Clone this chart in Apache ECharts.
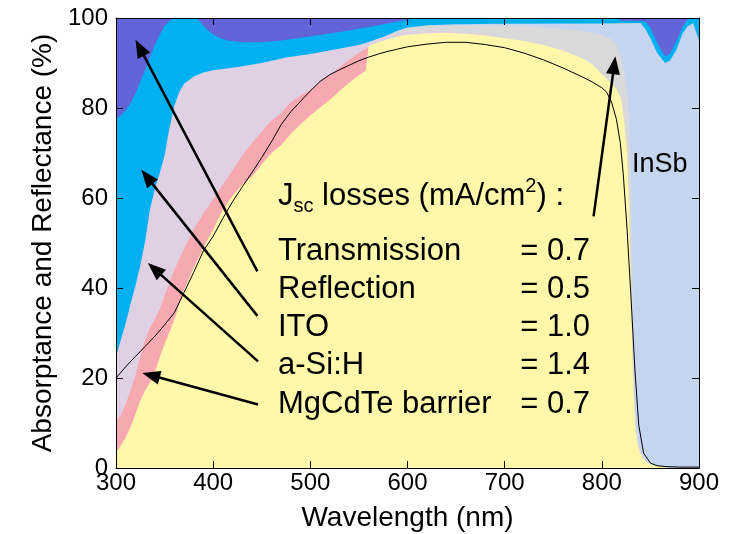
<!DOCTYPE html>
<html><head><meta charset="utf-8">
<script src="https://cdn.jsdelivr.net/npm/echarts@6/dist/echarts.min.js"></script>
<style>html,body{margin:0;padding:0;background:#fff}#c{width:741px;height:534px}</style>
</head><body><div id="c"></div>
<script>
// ---- data (cumulative boundaries, %) ----
const xTicks = [300, 400, 500, 600, 700, 800, 900];
const yTicks = [0, 20, 40, 60, 80, 100];

const wlReflection = [300, 900];
const reflection = [100, 100];

const wlITO = [300,305,310,315,320,325,330,335,340,345,350,355,360,383,390,397,405,415,430,450,470,490,510,530,550,570,590,605,612,815,820,840,845,850,857,865,870,877,883,888,892,900];
const ito = [77.8,78.3,79.5,81,83.2,85.8,88.5,91.3,94,96.3,98.2,99.3,100,100,98.3,96.8,95.7,95,94.6,94.6,95,95.6,96.2,96.9,97.6,98.4,99.2,99.8,100,100,99.4,99.3,99.2,97.8,94.5,91.5,92,95,98,99.6,100,100];

const wlInSb = [555,560,575,590,600,620,650,700,800,840,845,850,857,865,870,877,883,888,894,900];
const insb = [94.3,94.6,95.8,97.2,97.9,98.4,98.6,98.7,98.8,98.9,97.5,95.5,92.2,90,90.5,93,96.5,98.1,98.9,95];

const wlTrans = [556,560,575,590,600,620,650,680,700,720,740,760,780,790,800,810,815,820,823,826,828,830,831,832,834,836,840,845,850,860,870];
const trans = [94.2,94.5,95.7,97.0,97.7,98.2,98.4,98.4,98.3,98.1,97.9,97.6,97.1,96.7,96.2,95.2,94.2,91,88,83.5,78,64,50,35,16,8,3.5,1.5,0.8,0.3,0];

const wlASi = [300,305,310,315,320,325,330,335,340,345,350,355,360,365,370,380,390,400,425,450,475,500,525,550,558,560,570,580,590,600,620,640,660,680];
const asi = [24.8,28.5,32.2,36.5,40.5,45,50.5,57.5,62,65.5,69.5,75.5,80.5,83.5,85.4,87,87.9,88.4,89.1,90,91.2,92,93,94,94.5,94.6,95.4,96.0,96.6,96.9,97.1,97.1,96.8,96.2];

const wlMgCdTe = [300,305,310,315,320,325,330,335,340,345,350,360,370,380,390,400,410,420,430,440,450,460,470,480,490,500,510,520,530,540,550,560];
const mgcdte = [10.3,11.8,14.2,17.3,20.6,24.8,28.5,31.2,33.1,35.3,38.3,44,48.7,53.1,56.6,59.8,63,66.2,69.5,72.2,74.8,77.2,78.9,81.3,82.8,84,85.7,87.3,89,90.7,92.3,93.5];

const wlCdTe = [300,305,310,315,320,325,330,335,340,345,350,355,360,370,380,390,400,410,420,430,440,450,460,470,480,490,500,510,520,530,540,550,557,560,570,580,590,600,620,640,660,680,700,720,740,760,780,790,800,810,815,820,823,826,828,830,832,834,837,840,845,850,860,870,900];
const cdte = [3.5,5,6.8,9.1,12,15,17.3,19,21.3,24.6,27.5,30.2,33,39.6,44.5,49,53,57.4,60.5,63,64.8,67.5,70,71.8,74.3,76.4,78.4,80.1,81.8,83.8,85.6,87.3,88.3,93.8,94.6,95.3,95.9,96.3,96.6,96.7,96.5,96.1,95.5,94.9,94.0,92.8,91.0,89.8,87.5,85.5,84.2,82,77,70,58,40,20,10,5,3,1.5,0.8,0.3,0,0];

const wlEQE = [300,310,320,330,340,350,360,370,380,390,400,410,420,430,440,450,460,470,480,490,500,510,520,530,540,550,560,570,580,590,600,620,640,660,680,700,720,740,760,780,790,800,805,810,815,819,822,826,830,834,838,843,850,857,867,880,900];
const eqe = [20,22.5,24.8,27,29.3,31.8,34.5,39,43.5,48.3,51.5,55.5,59.2,62.5,65.7,69,72.5,76.3,79.2,81.5,83.8,85.9,87.4,88.5,89.5,90.5,91.3,92,92.6,93.1,93.6,94.2,94.6,94.6,94.1,93.4,92.2,90.7,88.9,86.9,85.8,84.5,83.5,81.3,77.5,72.3,65.5,53,38,22,9.5,3.3,1.1,0.5,0.3,0.2,0.2];

// annotation text
const lossNames = ['Transmission', 'Reflection', 'ITO', 'a-Si:H', 'MgCdTe barrier'];
const lossValues = ['= 0.7', '= 0.5', '= 1.0', '= 1.4', '= 0.7'];
// arrows: [tail, tip] in data coordinates
const arrows = [
  [[445.5, 43.7], [324.4, 93.4]],
  [[445.5, 33.8], [331.8, 64.7]],
  [[446.2, 23.7], [339.7, 44.2]],
  [[446.2, 14.1], [336.0, 20.6]],
  [[791.5, 55.9], [812.7, 89.5]]
];

// ---- chart ----
const F = '"Liberation Sans", Arial, sans-serif';
const pairs = (w, v) => w.map((x, i) => [x, v[i]]);
function area(name, w, v, color) {
  return {
    name, type: 'line', data: pairs(w, v), symbol: 'none', silent: true,
    lineStyle: { width: 0 }, areaStyle: { color, opacity: 1, origin: 'start' }
  };
}
const axisCommon = {
  axisLine: { show: true, onZero: false, lineStyle: { color: '#000', width: 1 } },
  axisTick: { show: true, inside: true, length: 7, lineStyle: { color: '#000', width: 1 } },
  splitLine: { show: false },
  z: 10
};
const chart = echarts.init(document.getElementById('c'), null, { renderer: 'canvas' });
const rowMid = [251, 289.2, 327.5, 365.9, 404.2];
const graphics = [];
graphics.push({
  type: 'text', x: 278, y: 176, z: 100,
  style: {
    text: '{m|J}{s|sc}{m| losses (mA/cm}{p|2}{m|) :}',
    rich: {
      m: { fontSize: 31, fontFamily: F, lineHeight: 40, fill: '#000', color: '#000' },
      s: { fontSize: 20, fontFamily: F, lineHeight: 20, verticalAlign: 'bottom', fill: '#000', color: '#000' },
      p: { fontSize: 20, fontFamily: F, lineHeight: 30, verticalAlign: 'top', fill: '#000', color: '#000' }
    }
  }
});
lossNames.forEach((n, i) => {
  graphics.push({ type: 'text', x: 278, y: rowMid[i], z: 100,
    style: { text: n, font: '31px ' + F, fill: '#000', align: 'left', verticalAlign: 'middle', textAlign: 'left', textVerticalAlign: 'middle' } });
  graphics.push({ type: 'text', x: 590, y: rowMid[i], z: 100,
    style: { text: lossValues[i], font: '31px ' + F, fill: '#000', align: 'right', verticalAlign: 'middle', textAlign: 'right', textVerticalAlign: 'middle' } });
});
graphics.push({ type: 'text', x: 632, y: 165, z: 100,
  style: { text: 'InSb', font: '27px ' + F, fill: '#000', align: 'left', verticalAlign: 'middle', textAlign: 'left', textVerticalAlign: 'middle' } });

chart.setOption({
  animation: false,
  backgroundColor: '#fff',
  grid: { left: 116, right: 42, top: 18, bottom: 66, containLabel: false, outerBoundsMode: 'none' },
  xAxis: [
    Object.assign({}, axisCommon, {
      type: 'value', min: xTicks[0], max: xTicks[xTicks.length - 1], interval: 100, position: 'bottom',
      axisLabel: { color: '#000', fontSize: 24, fontFamily: F, margin: 3 },
      name: 'Wavelength (nm)', nameLocation: 'middle', nameGap: 36,
      nameTextStyle: { color: '#000', fontSize: 28, fontFamily: F }
    }),
    Object.assign({}, axisCommon, {
      type: 'value', min: xTicks[0], max: xTicks[xTicks.length - 1], interval: 100, position: 'top',
      axisLabel: { show: false }
    })
  ],
  yAxis: [
    Object.assign({}, axisCommon, {
      type: 'value', min: yTicks[0], max: yTicks[yTicks.length - 1], interval: 20, position: 'left',
      axisLabel: { color: '#000', fontSize: 24, fontFamily: F, margin: 8 },
      name: 'Absorptance and Reflectance (%)', nameLocation: 'middle', nameGap: 58, nameRotate: 90,
      nameTextStyle: { color: '#000', fontSize: 28, fontFamily: F }
    }),
    Object.assign({}, axisCommon, {
      type: 'value', min: yTicks[0], max: yTicks[yTicks.length - 1], interval: 20, position: 'right',
      axisLabel: { show: false }
    })
  ],
  series: [
    area('Reflection', wlReflection, reflection, '#6464D9'),
    area('ITO', wlITO, ito, '#00B0F0'),
    area('InSb', wlInSb, insb, '#C5D4EF'),
    area('Transmission', wlTrans, trans, '#D9D9D9'),
    area('a-Si:H', wlASi, asi, '#E0D0E4'),
    area('MgCdTe barrier', wlMgCdTe, mgcdte, '#F7A9B1'),
    area('CdTe', wlCdTe, cdte, '#FFF7AA'),
    {
      name: 'EQE', type: 'line', data: pairs(wlEQE, eqe), symbol: 'none', silent: true,
      lineStyle: { color: '#000', width: 1 }, z: 3,
      markLine: {
        silent: true, animation: false,
        symbol: ['none', 'triangle'], symbolSize: [14, 18],
        lineStyle: { color: '#000', width: 2.5, type: 'solid' },
        itemStyle: { color: '#000' },
        label: { show: false },
        emphasis: { disabled: true },
        data: arrows.map(a => [{ coord: a[0] }, { coord: a[1] }])
      }
    }
  ],
  graphic: graphics
});
</script></body></html>
